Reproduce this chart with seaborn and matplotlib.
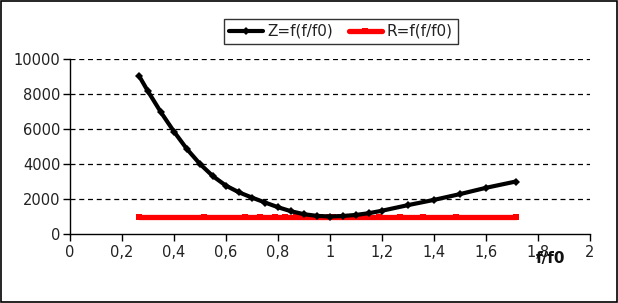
import matplotlib
matplotlib.use("Agg")
import matplotlib.pyplot as plt
import seaborn as sns
import pandas as pd
from matplotlib.patches import Rectangle

z_ratio = [0.265, 0.3, 0.35, 0.4, 0.45, 0.5, 0.55, 0.6, 0.65, 0.7,
           0.75, 0.8, 0.85, 0.9, 0.95, 1.0, 1.05, 1.1, 1.15, 1.2,
           1.3, 1.4, 1.5, 1.6, 1.715]
z_vals = [9050, 8150, 6950, 5850, 4850, 4000, 3300, 2760, 2380, 2080,
          1800, 1530, 1300, 1130, 1035, 1000, 1030, 1090, 1190, 1330,
          1650, 1950, 2280, 2640, 3000]
r_ratio = [0.265, 0.515, 0.673, 0.73, 0.788, 0.827, 0.87, 0.885, 0.93, 0.96,
           0.996, 1.012, 1.04, 1.08, 1.135, 1.19, 1.27, 1.358, 1.485, 1.715]
r_vals = [1000] * len(r_ratio)
series_names = ["Z=f(f/f0)", "R=f(f/f0)"]
x_ticks = [0, 0.2, 0.4, 0.6, 0.8, 1, 1.2, 1.4, 1.6, 1.8, 2]
x_tick_labels = ["0", "0,2", "0,4", "0,6", "0,8", "1", "1,2", "1,4", "1,6", "1,8", "2"]
y_ticks = [0, 2000, 4000, 6000, 8000, 10000]

z_df = pd.DataFrame({"x": z_ratio, "y": z_vals})
r_df = pd.DataFrame({"x": r_ratio, "y": r_vals})

sns.set_style("white")
plt.rcParams["font.family"] = ["DejaVu Sans"]

fig = plt.figure(figsize=(6.18, 3.03), dpi=100)
ax = fig.add_axes([70 / 618, 1 - 234 / 303, 520 / 618, 175 / 303])

sns.lineplot(data=r_df, x="x", y="y", ax=ax, color="#ff0000",
             lw=3.8, marker="s", markersize=5.0, markeredgewidth=0,
             label=series_names[1], legend=False, sort=False, zorder=3)
sns.lineplot(data=z_df, x="x", y="y", ax=ax, color="black",
             lw=3.0, marker="D", markersize=3.6, markeredgewidth=0,
             label=series_names[0], legend=False, sort=False, zorder=4)

ax.set_xlim(0, 2)
ax.set_ylim(0, 10000)
ax.set_xticks(x_ticks)
ax.set_xticklabels(x_tick_labels)
ax.set_yticks(y_ticks)
ax.set_xlabel("")
ax.set_ylabel("")
ax.tick_params(axis="both", which="major", direction="out", length=5, width=1,
               color="black", labelsize=10.5, labelcolor="#222222", bottom=True, left=True)
ax.tick_params(axis="x", pad=3)
ax.tick_params(axis="y", pad=2)
for side in ["top", "right"]:
    ax.spines[side].set_visible(False)
for side in ["left", "bottom"]:
    ax.spines[side].set_color("black")
    ax.spines[side].set_linewidth(1)
for yv in y_ticks[1:]:
    ax.axhline(yv, color="black", lw=0.9, ls=(0, (4, 3)), zorder=0)

handles, labels = ax.get_legend_handles_labels()
order = [labels.index(series_names[0]), labels.index(series_names[1])]
leg = fig.legend([handles[i] for i in order], [labels[i] for i in order],
                 loc="upper center", bbox_to_anchor=(341 / 618, 1 - 11 / 303),
                 ncol=2, frameon=True, fancybox=False, fontsize=11,
                 handlelength=2.2, handletextpad=0.3, columnspacing=1.0,
                 borderpad=0.35, labelcolor="#222222")
leg.get_frame().set_edgecolor("black")
leg.get_frame().set_linewidth(1)

fig.text(550 / 618, 1 - 258 / 303, "f/f0", fontsize=11, fontweight="bold",
         ha="center", va="center", color="#111111")

fig.patches.append(Rectangle((0.001, 0.002), 0.997, 0.996, transform=fig.transFigure,
                             fill=False, edgecolor="black", lw=1.2))

fig.savefig("out.png", dpi=100, facecolor="white")
